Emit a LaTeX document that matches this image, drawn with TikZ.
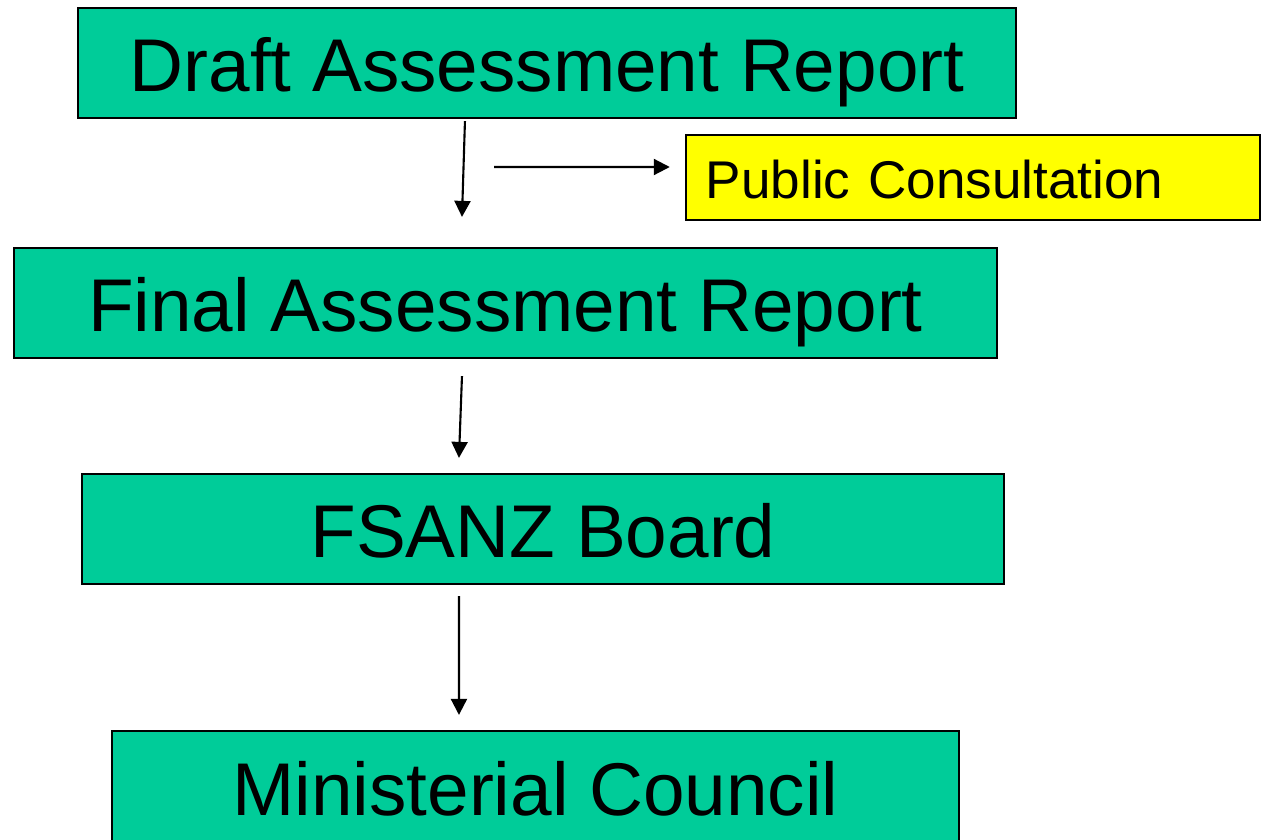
\documentclass[tikz,border=0pt]{standalone}
\usepackage{fontspec}
\setmainfont{Liberation Sans}
\usepackage{xcolor}
\usepackage{tikz}
\usetikzlibrary{arrows.meta, positioning}

\definecolor{stagegreen}{HTML}{00CC99}
\definecolor{consultyellow}{HTML}{FFFF00}

\begin{document}
\begin{tikzpicture}[
    x=0.01cm, y=-0.01cm,
    stage/.style={rectangle, draw, line width=0.6pt, fill=stagegreen, minimum height=1.1cm, inner sep=0pt, text height=0.56cm, text depth=0cm, align=center, font=\fontsize{21.25}{25}\selectfont},
    consult/.style={rectangle, draw, line width=0.6pt, fill=consultyellow, minimum height=0.85cm, inner sep=0pt, text width=5.34cm, text height=0.41cm, text depth=0cm, align=left, font=\fontsize{15.1}{18}\selectfont},
    arrow/.style={-{Triangle[length=0.16cm, width=0.16cm]}, line width=0.6pt}
]
\useasboundingbox (0,0) rectangle (1261,839);
\node[stage, minimum width=9.38cm] (draft) at (547,63) {Draft Assessment Report};
\node[consult, minimum width=5.74cm] (public) at (973,177.5) {Public Consultation};
\node[stage, minimum width=9.83cm] (final) at (505.5,303) {Final Assessment Report};
\node[stage, minimum width=9.22cm] (board) at (543,529) {FSANZ Board};
\node[stage, minimum width=8.47cm, minimum height=1.12cm] (council) at (535.5,787) {Ministerial Council};
\coordinate (consultstart) at (494,167);

\draw[arrow] ([xshift=-0.82cm, yshift=-0.02cm]draft.south) -- ([xshift=-0.435cm, yshift=0.30cm]final.north);
\draw[arrow] (consultstart) -- ([xshift=-0.15cm, yshift=0.105cm]public.west);
\draw[arrow] ([xshift=-0.435cm, yshift=-0.17cm]final.south) -- ([xshift=-0.84cm, yshift=0.15cm]board.north);
\draw[arrow] ([xshift=-0.84cm, yshift=-0.11cm]board.south) -- ([xshift=-0.765cm, yshift=0.15cm]council.north);
\end{tikzpicture}
\end{document}
